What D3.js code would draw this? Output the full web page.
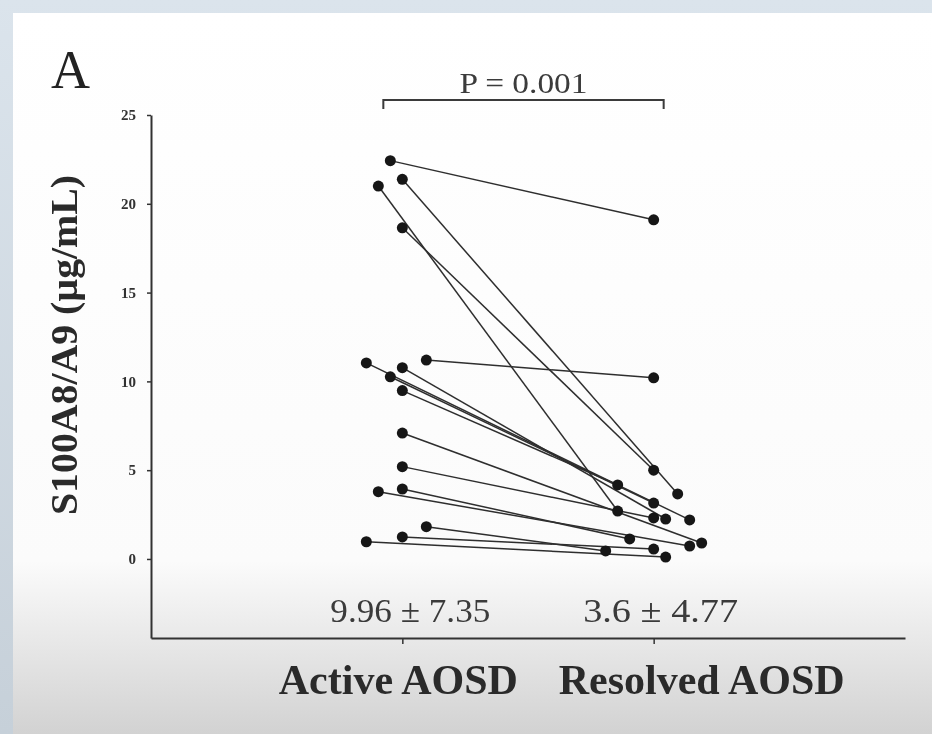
<!DOCTYPE html>
<html>
<head>
<meta charset="utf-8">
<script src="https://cdn.jsdelivr.net/npm/d3@7"></script>
<style>
    html, body { margin: 0; padding: 0; background: #dbe4ec; }
    svg { display: block; }
    .axis path, .axis line { stroke: #333; }
    .axis text { font-family: "Liberation Serif", "Times New Roman", serif; font-weight: bold; fill: #333; }
</style>
</head>
<body>
<div id="chart"></div>
<script>
// Paired S100A8/A9 levels, active vs resolved AOSD
const groups = ["Active AOSD", "Resolved AOSD"];
const activeValues = [22.43, 21.38, 21.0, 18.65, 11.2, 11.04, 10.77, 10.26, 9.48, 7.09, 5.2, 3.79, 3.94, 1.82, 0.97, 1.24];
const resolvedValues = [19.1, 3.66, 2.7, 5.0, 10.2, 2.2, 2.25, 3.15, 4.17, 0.9, 2.31, 0.73, 1.13, 0.45, 0.11, 0.56];
// side-by-side lane of each dot so overlapping points stay visible
const activeLane = [-1, 0, -2, 0, 2, -3, 0, -1, 0, 0, 0, -2, 0, 2, -3, 0];
const resolvedLane = [0, 2, -3, 0, 0, 3, 1, 0, -3, 4, 0, 3, -2, -4, 1, 0];
const yTicks = [0, 5, 10, 15, 20, 25];
const meanLabels = ["9.96 \u00B1 7.35", "3.6 \u00B1 4.77"];
const pLabel = "P = 0.001";
const panelLabel = "A";
const yLabel = "S100A8/A9 (\u00B5g/mL)";

const W = 932, H = 734;
const serif = '"Liberation Serif", "Times New Roman", serif';

const pairs = activeValues.map((v, i) => ({
    a: v, b: resolvedValues[i], la: activeLane[i], lb: resolvedLane[i]
}));

const svg = d3.select("#chart").append("svg")
    .attr("width", W)
    .attr("height", H);

// slide background, photographed
const defs = svg.append("defs");
const grad = defs.append("linearGradient")
    .attr("id", "bg").attr("x1", 0).attr("y1", 0).attr("x2", 0).attr("y2", 1);
grad.append("stop").attr("offset", "0").attr("stop-color", "#ffffff");
grad.append("stop").attr("offset", "0.76").attr("stop-color", "#fbfbfb");
grad.append("stop").attr("offset", "1").attr("stop-color", "#d2d2d2");
const side = defs.append("linearGradient")
    .attr("id", "side").attr("x1", 0).attr("y1", 0).attr("x2", 0).attr("y2", 1);
side.append("stop").attr("offset", "0").attr("stop-color", "#dbe4ec");
side.append("stop").attr("offset", "1").attr("stop-color", "#c6d0d9");
defs.append("filter").attr("id", "soft")
    .append("feGaussianBlur").attr("stdDeviation", 0.6);

svg.append("rect").attr("width", W).attr("height", H).attr("fill", "url(#side)");
svg.append("rect")
    .attr("x", 13).attr("y", 13)
    .attr("width", W - 13).attr("height", H - 13)
    .attr("fill", "url(#bg)");

const g = svg.append("g").attr("filter", "url(#soft)");

// scales
const x = d3.scalePoint()
    .domain(groups)
    .range([151, 905])
    .padding(1);

const y = d3.scaleLinear()
    .domain([-4.45, 25])
    .range([638, 115]);

const lane = d3.scaleLinear().domain([0, 1]).range([0, 12]);

// y axis
const yAxis = g.append("g")
    .attr("class", "axis")
    .attr("transform", "translate(151,0)")
    .call(d3.axisLeft(y).tickValues(yTicks).tickSize(4).tickSizeOuter(0).tickPadding(11));
yAxis.select(".domain").attr("stroke-width", 2);
yAxis.selectAll(".tick line").attr("stroke-width", 1.5);
yAxis.selectAll("text").style("font-size", "15px");

// x axis
const xAxis = g.append("g")
    .attr("class", "axis")
    .attr("transform", "translate(0,638)")
    .call(d3.axisBottom(x).tickSize(6).tickSizeOuter(0).tickFormat(""));
xAxis.select(".domain").attr("stroke-width", 2.2);
xAxis.selectAll(".tick line").attr("stroke-width", 1.5);

// category labels
g.selectAll(".cat")
    .data(groups)
    .join("text")
    .attr("class", "cat")
    .attr("x", (d, i) => x(d) + (i === 0 ? -4 : 48))
    .attr("y", 694)
    .attr("text-anchor", "middle")
    .style("font-family", serif)
    .style("font-weight", "bold")
    .style("font-size", "42px")
    .attr("fill", "#2b2b2b")
    .text(d => d);

// mean +/- sd labels
g.selectAll(".mean")
    .data(meanLabels)
    .join("text")
    .attr("class", "mean")
    .attr("x", (d, i) => x(groups[i]) + (i === 0 ? 8 : 7))
    .attr("y", 622)
    .attr("text-anchor", "middle")
    .style("font-family", serif)
    .style("font-size", "33px")
    .attr("fill", "#3a3a3a")
    .attr("textLength", (d, i) => i === 0 ? 160 : 155)
    .attr("lengthAdjust", "spacingAndGlyphs")
    .text(d => d);

// paired lines
g.selectAll(".pair")
    .data(pairs)
    .join("line")
    .attr("class", "pair")
    .attr("x1", d => x(groups[0]) + lane(d.la))
    .attr("y1", d => y(d.a))
    .attr("x2", d => x(groups[1]) + lane(d.lb))
    .attr("y2", d => y(d.b))
    .attr("stroke", "#2e2e2e")
    .attr("stroke-width", 1.5);

// dots
const dots = pairs.flatMap(d => [
    {g: groups[0], v: d.a, l: d.la},
    {g: groups[1], v: d.b, l: d.lb}
]);
g.selectAll(".dot")
    .data(dots)
    .join("circle")
    .attr("class", "dot")
    .attr("cx", d => x(d.g) + lane(d.l))
    .attr("cy", d => y(d.v))
    .attr("r", 5.5)
    .attr("fill", "#151515");

// significance bracket
const bx0 = x(groups[0]) - 19, bx1 = x(groups[1]) + 10;
g.append("path")
    .attr("d", `M${bx0},109V100H${bx1}V109`)
    .attr("fill", "none")
    .attr("stroke", "#3a3a3a")
    .attr("stroke-width", 2);
g.append("text")
    .attr("x", (bx0 + bx1) / 2)
    .attr("y", 93)
    .attr("text-anchor", "middle")
    .style("font-family", serif)
    .style("font-size", "30px")
    .attr("fill", "#3a3a3a")
    .attr("textLength", 128)
    .attr("lengthAdjust", "spacingAndGlyphs")
    .text(pLabel);

// panel letter
g.append("text")
    .attr("x", 51)
    .attr("y", 88)
    .style("font-family", serif)
    .style("font-size", "54px")
    .attr("fill", "#222")
    .text(panelLabel);

// y axis title
g.append("text")
    .attr("transform", "translate(77,345) rotate(-90)")
    .attr("text-anchor", "middle")
    .style("font-family", serif)
    .style("font-weight", "bold")
    .style("font-size", "38px")
    .attr("fill", "#2b2b2b")
    .attr("textLength", 340)
    .attr("lengthAdjust", "spacingAndGlyphs")
    .text(yLabel);
</script>
</body>
</html>
